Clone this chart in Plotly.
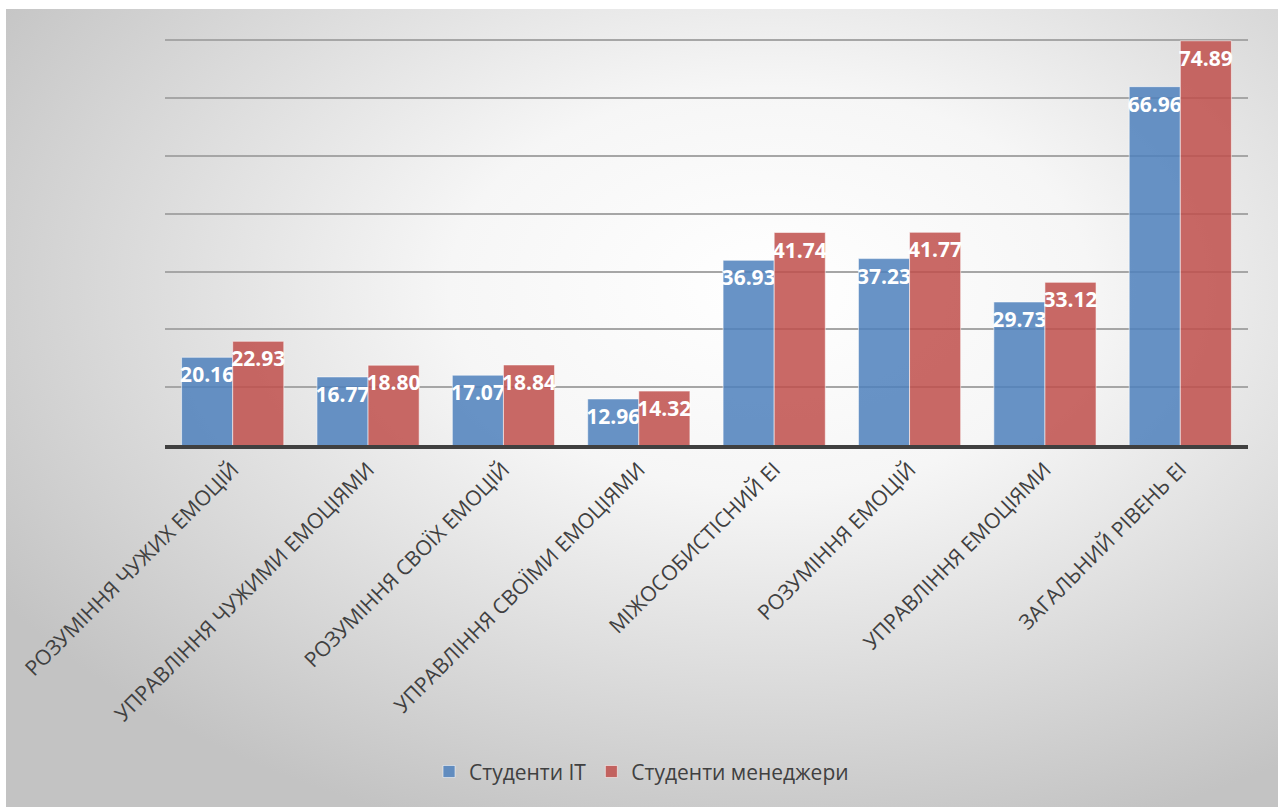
import base64
import plotly.graph_objects as go

categories = [
    "РОЗУМІННЯ ЧУЖИХ ЕМОЦІЙ",
    "УПРАВЛІННЯ ЧУЖИМИ ЕМОЦІЯМИ",
    "РОЗУМІННЯ СВОЇХ ЕМОЦІЙ",
    "УПРАВЛІННЯ СВОЇМИ ЕМОЦІЯМИ",
    "МІЖОСОБИСТІСНИЙ ЕІ",
    "РОЗУМІННЯ ЕМОЦІЙ",
    "УПРАВЛІННЯ ЕМОЦІЯМИ",
    "ЗАГАЛЬНИЙ РІВЕНЬ ЕІ",
]
it_students = [20.16, 16.77, 17.07, 12.96, 36.93, 37.23, 29.73, 66.96]
manager_students = [22.93, 18.80, 18.84, 14.32, 41.74, 41.77, 33.12, 74.89]

W, H = 1284, 809
L, R, T, B = 165, 36, 39, 364

# radial grey-to-white backdrop as an inline SVG
svg = (
    '<svg xmlns="http://www.w3.org/2000/svg" width="1272" height="798" '
    'preserveAspectRatio="none" viewBox="0 0 1272 798">'
    '<defs><radialGradient id="g" cx="0.6" cy="0.35" r="0.72" fx="0.6" fy="0.35">'
    '<stop offset="0" stop-color="#ffffff"/>'
    '<stop offset="0.35" stop-color="#f6f6f6"/>'
    '<stop offset="1" stop-color="#c3c3c3"/>'
    '</radialGradient></defs>'
    '<rect width="1272" height="798" fill="url(#g)"/></svg>'
)
bg_uri = "data:image/svg+xml;base64," + base64.b64encode(svg.encode()).decode()

pw, ph = W - L - R, H - T - B

label_font = dict(family="Open Sans", size=21, color="white", weight="bold")

fig = go.Figure()
fig.add_bar(
    x=categories, y=it_students, name="Студенти IT",
    marker=dict(color="rgba(79,129,189,0.86)", line=dict(color="rgba(255,255,255,0.55)", width=1)),
    text=[f"{v:.2f}" for v in it_students], textposition="inside",
    insidetextanchor="end", constraintext="none", textangle=0,
    insidetextfont=label_font,
)
fig.add_bar(
    x=categories, y=manager_students, name="Студенти менеджери",
    marker=dict(color="rgba(192,80,77,0.86)", line=dict(color="rgba(255,255,255,0.55)", width=1)),
    text=[f"{v:.2f}" for v in manager_students], textposition="inside",
    insidetextanchor="end", constraintext="none", textangle=0,
    insidetextfont=label_font,
)

fig.update_layout(
    width=W, height=H,
    margin=dict(l=L, r=R, t=T, b=B),
    paper_bgcolor="white", plot_bgcolor="rgba(0,0,0,0)",
    barmode="group", bargap=0.245, bargroupgap=0.0,
    font=dict(family="Open Sans", color="#404040"),
    legend=dict(
        orientation="h", x=0.44, xanchor="center", y=-0.805, yanchor="middle",
        font=dict(size=21, color="#404040"), bgcolor="rgba(0,0,0,0)",
        itemwidth=30, traceorder="normal",
    ),
    images=[dict(
        source=bg_uri, xref="paper", yref="paper",
        x=(6 - L) / pw, y=(H - B - 9) / ph,
        sizex=1272 / pw, sizey=798 / ph,
        xanchor="left", yanchor="top", sizing="stretch", layer="below",
    )],
)
fig.update_xaxes(
    showline=True, linecolor="#404040", linewidth=4,
    tickangle=-45, tickfont=dict(size=21, color="#404040"),
    ticks="", showgrid=False,
)
fig.update_yaxes(
    range=[5, 75.2], tick0=5, dtick=10, showticklabels=False,
    showgrid=True, gridcolor="#a6a6a6", gridwidth=1.5, zeroline=False,
)

fig.write_html("out.html")
